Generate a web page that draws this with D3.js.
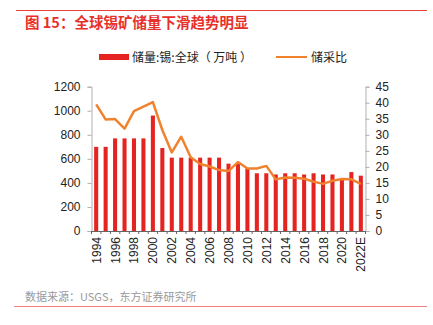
<!DOCTYPE html>
<html>
<head>
<meta charset="utf-8">
<script src="https://cdn.jsdelivr.net/npm/d3@7"></script>
<style>
  html, body { margin: 0; padding: 0; background: #fff; }
  svg { display: block; font-family: "Liberation Sans", Arial, "Noto Sans CJK SC", sans-serif; }
</style>
</head>
<body>
<svg id="chart" width="433" height="325"></svg>
<script>
// Years (x categories)
const years = ["1994","1995","1996","1997","1998","1999","2000","2001","2002","2003",
  "2004","2005","2006","2007","2008","2009","2010","2011","2012","2013",
  "2014","2015","2016","2017","2018","2019","2020","2021","2022E"];
// Global tin reserves (10k tonnes)
const reserves = [700,700,770,770,770,770,960,690,610,610,
  610,610,610,610,560,560,520,480,480,470,
  480,480,470,480,470,470,430,490,460];
// Reserve-to-production ratio
const rpRatio = [39.5,34.8,34.9,31.9,37.4,38.8,40.2,31.5,24.5,29.4,
  23.0,20.9,20.1,19.0,18.7,21.5,19.5,19.5,20.3,16.1,
  16.7,16.6,16.3,15.4,14.7,15.7,16.2,16.1,14.7];
const leftTicks = [0,200,400,600,800,1000,1200];
const rightTicks = [0,5,10,15,20,25,30,35,40,45];
const xLabels = years.filter((d, i) => i % 2 === 0);

const barColor = "#e52421";
const lineColor = "#f0822e";
const CJK = '"Noto Sans CJK SC", sans-serif';

const svg = d3.select("#chart");

// Header and footer rules
svg.append("line").attr("x1", 16).attr("x2", 427).attr("y1", 10.5).attr("y2", 10.5)
  .attr("stroke", "#e8413b").attr("stroke-width", 1);
svg.append("text").attr("x", 25).attr("y", 27.5)
  .attr("font-family", CJK).attr("font-size", 14.5).attr("font-weight", "bold")
  .attr("fill", "#e8302a").text("图 15：全球锡矿储量下滑趋势明显");
svg.append("text").attr("x", 25).attr("y", 301)
  .attr("font-family", CJK).attr("font-size", 11)
  .attr("fill", "#9a9a9a").text("数据来源：USGS，东方证券研究所");
svg.append("line").attr("x1", 14).attr("x2", 427).attr("y1", 306.5).attr("y2", 306.5)
  .attr("stroke", "#f08080").attr("stroke-width", 1);

// Plot area
const plotLeft = 91.5, plotRight = 365.5, plotTop = 86.7, plotBottom = 231;

const x = d3.scaleBand().domain(years).range([plotLeft, plotRight]).paddingInner(0.57).paddingOuter(0.28);
const yL = d3.scaleLinear().domain([0, 1200]).range([plotBottom, plotTop]);
const yR = d3.scaleLinear().domain([0, 45]).range([plotBottom, plotTop]);

// Bars
svg.append("g").selectAll("rect").data(years).join("rect")
  .attr("x", d => x(d))
  .attr("width", x.bandwidth())
  .attr("y", (d, i) => yL(reserves[i]))
  .attr("height", (d, i) => plotBottom - yL(reserves[i]))
  .attr("fill", barColor);

// Left axis
const gL = svg.append("g").attr("transform", `translate(${plotLeft},0)`)
  .call(d3.axisLeft(yL).tickValues(leftTicks).tickFormat(d3.format("d")).tickSize(4).tickPadding(7));
// Right axis
const gR = svg.append("g").attr("transform", `translate(${plotRight},0)`)
  .call(d3.axisRight(yR).tickValues(rightTicks).tickFormat(d3.format("d")).tickSize(4).tickPadding(6));
[gL, gR].forEach(g => {
  g.select(".domain").attr("stroke", "#b0b0b0");
  g.selectAll(".tick line").attr("stroke", "#b0b0b0");
  g.selectAll("text").attr("font-size", 12).attr("fill", "#222")
    .attr("font-family", '"Liberation Sans", Arial, sans-serif');
});

// Bottom axis: ticks between categories
const gB = svg.append("g").attr("transform", `translate(0,${plotBottom})`);
gB.append("line").attr("x1", plotLeft).attr("x2", plotRight).attr("y1", 0.5).attr("y2", 0.5)
  .attr("stroke", "#666");
const bounds = d3.range(years.length + 1).map(i => plotLeft + (plotRight - plotLeft) * i / years.length);
gB.selectAll("line.tk").data(bounds).join("line").attr("class", "tk")
  .attr("x1", d => d).attr("x2", d => d).attr("y1", 0).attr("y2", 3)
  .attr("stroke", "#666");
gB.selectAll("text").data(xLabels).join("text")
  .attr("transform", d => `translate(${x(d) + x.bandwidth() / 2 + 4.5},6) rotate(-90)`)
  .attr("text-anchor", "end")
  .attr("font-size", 12).attr("fill", "#222")
  .attr("font-family", '"Liberation Sans", Arial, sans-serif')
  .text(d => d);

// Ratio line
const line = d3.line()
  .x((d, i) => x(years[i]) + x.bandwidth() / 2)
  .y(d => yR(d));
svg.append("path").datum(rpRatio).attr("d", line)
  .attr("fill", "none").attr("stroke", lineColor).attr("stroke-width", 2.5)
  .attr("stroke-linejoin", "round");

// Legend
const lg = svg.append("g");
lg.append("rect").attr("x", 99).attr("y", 54).attr("width", 30).attr("height", 6).attr("fill", barColor);
lg.append("text").attr("x", 132).attr("y", 61.5).attr("font-family", CJK).attr("font-size", 12)
  .attr("fill", "#222").attr("xml:space", "preserve").text("储量:锡:全球（ 万吨 ）");
lg.append("line").attr("x1", 276).attr("x2", 307).attr("y1", 57).attr("y2", 57)
  .attr("stroke", lineColor).attr("stroke-width", 2);
lg.append("text").attr("x", 311).attr("y", 61.5).attr("font-family", CJK).attr("font-size", 12)
  .attr("fill", "#222").text("储采比");
</script>
</body>
</html>
